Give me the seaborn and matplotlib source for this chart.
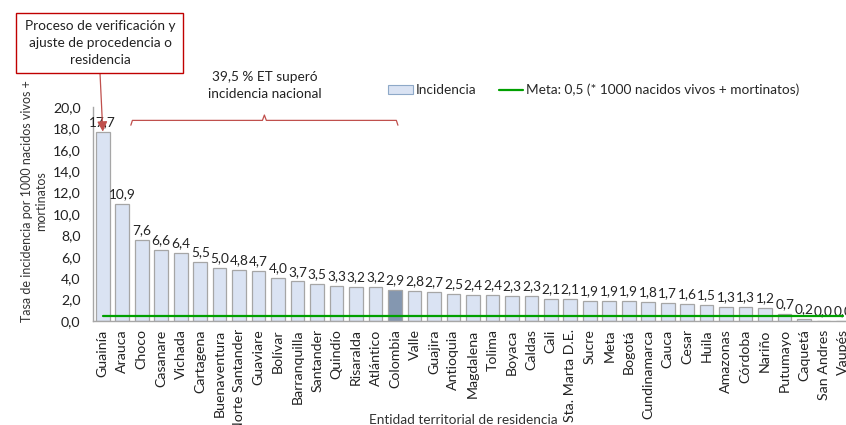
import matplotlib
matplotlib.use("Agg")
import matplotlib.pyplot as plt
from matplotlib.patches import Patch, Rectangle
from matplotlib.lines import Line2D
import seaborn as sns
import pandas as pd

# Incidence per 1000 live births + stillbirths, by territorial entity
entidades = [
    "Guainía", "Arauca", "Choco", "Casanare", "Vichada", "Cartagena",
    "Buenaventura", "Norte Santander", "Guaviare", "Bolívar", "Barranquilla",
    "Santander", "Quindío", "Risaralda", "Atlántico", "Colombia", "Valle",
    "Guajira", "Antioquia", "Magdalena", "Tolima", "Boyaca", "Caldas", "Cali",
    "Sta. Marta D.E.", "Sucre", "Meta", "Bogotá", "Cundinamarca", "Cauca",
    "Cesar", "Huila", "Amazonas", "Córdoba", "Nariño", "Putumayo", "Caquetá",
    "San Andres", "Vaupés",
]
incidencia = [
    17.7, 10.9, 7.6, 6.6, 6.4, 5.5, 5.0, 4.8, 4.7, 4.0, 3.7, 3.5, 3.3, 3.2,
    3.2, 2.9, 2.8, 2.7, 2.5, 2.4, 2.4, 2.3, 2.3, 2.1, 2.1, 1.9, 1.9, 1.9, 1.8,
    1.7, 1.6, 1.5, 1.3, 1.3, 1.2, 0.7, 0.2, 0.0, 0.0,
]
meta = 0.5
yticks = [0, 2, 4, 6, 8, 10, 12, 14, 16, 18, 20]

sns.set_theme(style="white")
plt.rcParams["font.family"] = ["Lato", "DejaVu Sans"]

df = pd.DataFrame({"entidad": entidades, "tasa": incidencia})
bar_color = "#dae3f3"
nat_color = "#8497b0"
colors = {e: (nat_color if e == "Colombia" else bar_color) for e in entidades}

W, H = 846, 425
fig = plt.figure(figsize=(W / 100, H / 100), dpi=100)
ax = fig.add_axes([0.110, 0.2447, 0.898, 0.5035])

sns.barplot(data=df, x="entidad", y="tasa", hue="entidad", palette=colors,
            legend=False, width=0.7, edgecolor="#a6a6a6", linewidth=0.9,
            saturation=1, ax=ax)

# Target line
n = len(entidades)
ax.plot([0, n - 1], [meta, meta], color="#00a000", lw=1.6, zorder=5)

# Value labels
for i, v in enumerate(incidencia):
    ax.text(i, v + 0.35, f"{v:.1f}".replace(".", ","), ha="center",
            va="bottom", fontsize=9.8, color="#222222", clip_on=False)

ax.set_xlim(-0.5, n - 0.5)
ax.set_ylim(0, 20)
ax.set_yticks(yticks)
ax.set_yticklabels([f"{t:.1f}".replace(".", ",") for t in yticks],
                   fontsize=10.2, color="#222222")
ax.tick_params(axis="y", length=0, pad=9)
ax.tick_params(axis="x", length=0, pad=6, labelrotation=90, labelsize=10.2,
               labelcolor="#222222")
for lbl in ax.get_xticklabels():
    lbl.set_va("top")
ax.set_xlabel("")
ax.set_ylabel("Tasa de incidencia por 1000 nacidos vivos +\nmortinatos",
              fontsize=9, color="#333333", multialignment="center")
ax.yaxis.set_label_coords(-0.060, 0.56)
for side in ["top", "right"]:
    ax.spines[side].set_visible(False)
for side in ["left", "bottom"]:
    ax.spines[side].set_color("#a6a6a6")
    ax.spines[side].set_linewidth(1.0)

fig.text(463 / W, 1 - 420 / H, "Entidad territorial de residencia",
         ha="center", va="center", fontsize=9.8, color="#333333")

# Brace over entities above the national rate
x0, x1 = 1.44, 15.15
xm = (x0 + x1) / 2
bx = [x0, x0 + 0.08, xm - 0.1, xm, xm + 0.1, x1 - 0.08, x1]
by = [18.3, 18.75, 18.75, 19.25, 18.75, 18.75, 18.3]
ax.plot(bx, by, color="#c0504d", lw=0.9, clip_on=False)
ax.text(xm, 22.0, "39,5 % ET superó\nincidencia nacional", ha="center",
        va="center", fontsize=9.8, color="#222222", linespacing=1.5,
        clip_on=False)

# Callout box with arrow to the first bar
fig.add_artist(Rectangle((16 / W, 1 - 73 / H), 167 / W, 60 / H,
                         transform=fig.transFigure, fc="white",
                         ec="#c00000", lw=1.0))
fig.text(100 / W, 1 - 43 / H,
         "Proceso de verificación y\najuste de procedencia o\nresidencia",
         ha="center", va="center", fontsize=9.8, color="#222222",
         linespacing=1.5)
ax.annotate("", xy=(0, 17.7), xycoords="data",
            xytext=(100 / W, 1 - 73 / H), textcoords="figure fraction",
            arrowprops=dict(arrowstyle="-|>,head_length=0.5,head_width=0.25",
                            color="#c0504d", lw=0.9, shrinkA=0, shrinkB=0))

# Legend
handles = [
    Patch(facecolor=bar_color, edgecolor="#8ea9c8", lw=0.8, label="Incidencia"),
    Line2D([0], [0], color="#00a000", lw=1.6,
           label="Meta: 0,5 (* 1000 nacidos vivos + mortinatos)"),
]
fig.legend(handles=handles, loc="center left",
           bbox_to_anchor=(376 / W, 1 - 90 / H), ncol=2, frameon=False,
           fontsize=9.8, handlelength=1.8, handletextpad=0.25,
           columnspacing=1.6)

fig.savefig("out.png", dpi=100)
